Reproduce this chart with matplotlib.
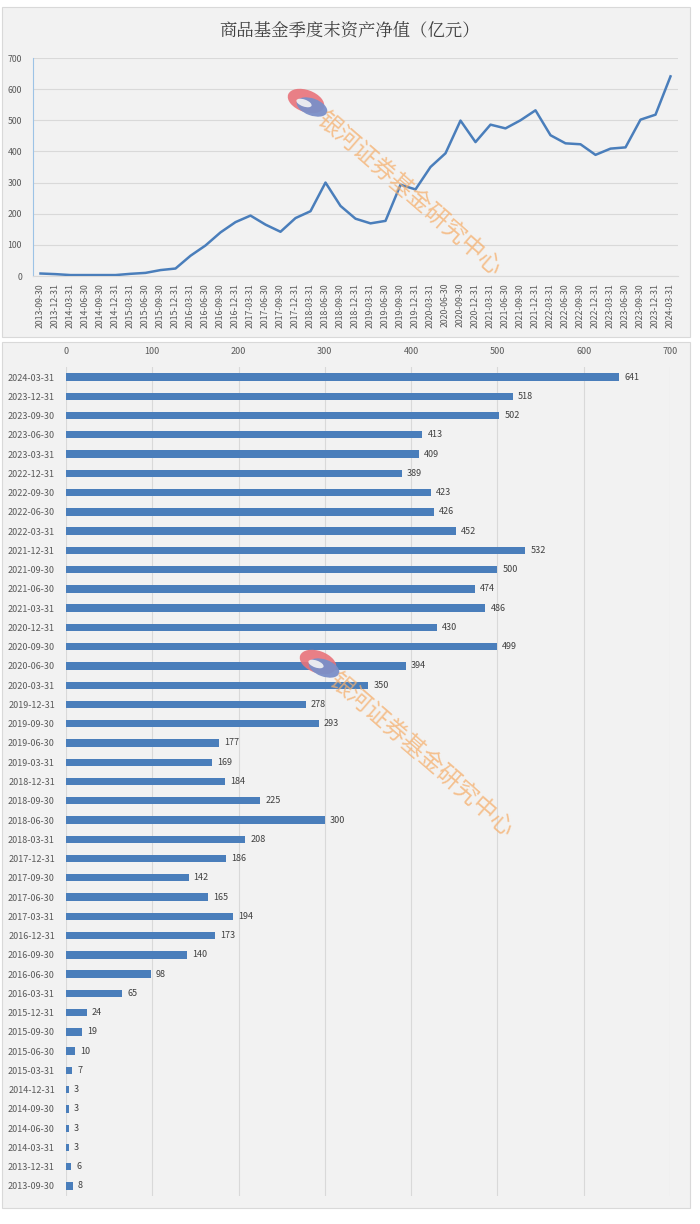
import numpy as np
import matplotlib
matplotlib.use("Agg")
import matplotlib.pyplot as plt
from matplotlib.patches import Rectangle, Ellipse

plt.rcParams['font.family'] = ['Noto Sans CJK SC', 'DejaVu Sans']

# quarter-end dates and net asset values (100m CNY)
dates = ["2013-09-30", "2013-12-31",
         "2014-03-31", "2014-06-30", "2014-09-30", "2014-12-31",
         "2015-03-31", "2015-06-30", "2015-09-30", "2015-12-31",
         "2016-03-31", "2016-06-30", "2016-09-30", "2016-12-31",
         "2017-03-31", "2017-06-30", "2017-09-30", "2017-12-31",
         "2018-03-31", "2018-06-30", "2018-09-30", "2018-12-31",
         "2019-03-31", "2019-06-30", "2019-09-30", "2019-12-31",
         "2020-03-31", "2020-06-30", "2020-09-30", "2020-12-31",
         "2021-03-31", "2021-06-30", "2021-09-30", "2021-12-31",
         "2022-03-31", "2022-06-30", "2022-09-30", "2022-12-31",
         "2023-03-31", "2023-06-30", "2023-09-30", "2023-12-31",
         "2024-03-31"]
values = [8, 6,
          3, 3, 3, 3,
          7, 10, 19, 24,
          65, 98, 140, 173,
          194, 165, 142, 186,
          208, 300, 225, 184,
          169, 177, 293, 278,
          350, 394, 499, 430,
          486, 474, 500, 532,
          452, 426, 423, 389,
          409, 413, 502, 518,
          641]
title = "商品基金季度末资产净值（亿元）"
watermark = "银河证券基金研究中心"

W, H = 700, 1224
fig = plt.figure(figsize=(W / 100, H / 100), dpi=100)
fig.patch.set_facecolor("white")

def fx(px):
    return px / W

def fy(py):
    return 1 - py / H

# background layer in pixel coords
bg = fig.add_axes([0, 0, 1, 1], zorder=-5)
bg.set_xlim(0, W)
bg.set_ylim(H, 0)
bg.axis("off")
for (x0, y0, x1, y1) in [(2, 7, 690, 337), (2, 342, 690, 1208)]:
    bg.add_patch(Rectangle((x0, y0), x1 - x0, y1 - y0, facecolor="#f2f2f2",
                           edgecolor="#d9d9d9", linewidth=0.8))

blue = "#4a7ebb"
grid_c = "#d9d9d9"
txt_c = "#595959"
n = len(dates)
x = np.arange(n)

# ---- top line chart
ax1 = fig.add_axes([fx(33), fy(276), fx(678 - 33), (276 - 58) / H])
ax1.set_facecolor("none")
ax1.plot(x, values, color=blue, linewidth=1.8, zorder=3)
ax1.set_xlim(-0.5, n - 0.5)
ax1.set_ylim(0, 700)
ax1.set_yticks(range(0, 701, 100))
ax1.yaxis.grid(True, color=grid_c, linewidth=0.8)
ax1.set_axisbelow(True)
ax1.set_xticks(x)
ax1.set_xticklabels(dates, rotation=90, fontsize=6.3, color=txt_c)
ax1.tick_params(axis="y", labelsize=6.3, labelcolor=txt_c, length=0, pad=8)
ax1.tick_params(axis="x", length=0, pad=5)
for s in ["top", "right"]:
    ax1.spines[s].set_visible(False)
ax1.spines["left"].set_color("#9dc3e6")
ax1.spines["bottom"].set_color(grid_c)
fig.text(0.5, fy(31), title, ha="center", va="center", fontsize=12.5,
         color="#404040", fontfamily=["Noto Serif CJK SC", "Noto Sans CJK SC"])

# ---- bottom bar chart (latest at top)
ax2 = fig.add_axes([fx(66), fy(1195.6), fx(670 - 66), (1195.6 - 367.4) / H])
ax2.set_facecolor("none")
ypos = np.arange(n)
ax2.barh(ypos, values, height=0.38, color=blue, zorder=3)
ax2.set_ylim(-0.5, n - 0.5)
ax2.set_xlim(0, 700)
ax2.set_yticks(ypos)
ax2.set_yticklabels(dates, fontsize=6.5, color=txt_c)
ax2.set_xticks(range(0, 701, 100))
ax2.xaxis.tick_top()
ax2.tick_params(axis="x", labelsize=6.5, labelcolor=txt_c, length=0, pad=8)
ax2.tick_params(axis="y", length=0, pad=8)
ax2.xaxis.grid(True, color=grid_c, linewidth=0.8)
ax2.set_axisbelow(True)
for s in ax2.spines.values():
    s.set_visible(False)
for yi, v in zip(ypos, values):
    ax2.text(v + 6, yi, str(v), va="center", ha="left", fontsize=6.5, color="#404040", zorder=4)

# ---- watermarks on an overlay layer
ov = fig.add_axes([0, 0, 1, 1], zorder=10)
ov.set_xlim(0, W)
ov.set_ylim(H, 0)
ov.axis("off")
ov.patch.set_alpha(0)

def draw_mark(cx, cy):
    ov.add_patch(Ellipse((cx - 2, cy - 3), 38, 22, angle=20, facecolor="#e8737a",
                         alpha=0.9, edgecolor="none"))
    ov.add_patch(Ellipse((cx + 4, cy + 3), 32, 17, angle=20, facecolor="#7b8fc8",
                         alpha=0.95, edgecolor="none"))
    ov.add_patch(Ellipse((cx - 4, cy - 1), 16, 7, angle=20, facecolor="#f4f4f4",
                         alpha=0.9, edgecolor="none"))
    ov.text(cx + 12, cy + 12, watermark, rotation=-41, ha="left", va="center",
            fontsize=17, color="#f5b06e", alpha=0.75, rotation_mode="anchor")

draw_mark(308, 104)
draw_mark(320, 665)

fig.savefig("out.png", dpi=100, facecolor="white")
